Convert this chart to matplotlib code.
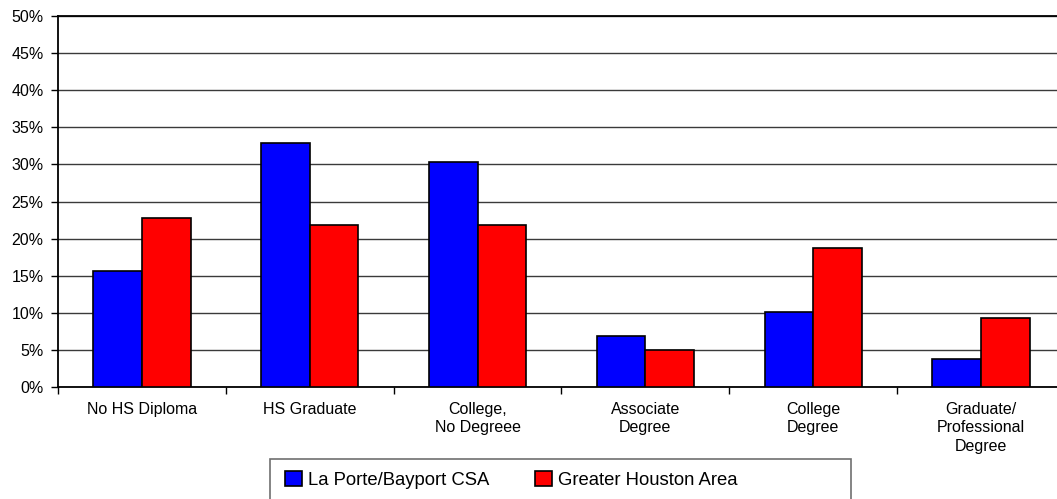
import numpy as np
import matplotlib
matplotlib.use("Agg")
import matplotlib.pyplot as plt
from matplotlib.patches import Rectangle

categories = ["No HS Diploma", "HS Graduate", "College,\nNo Degreee",
              "Associate\nDegree", "College\nDegree",
              "Graduate/\nProfessional\nDegree"]
la_porte = [15.6, 32.9, 30.3, 6.9, 10.1, 3.8]
houston = [22.8, 21.9, 21.9, 5.0, 18.8, 9.3]
series_names = ["La Porte/Bayport CSA", "Greater Houston Area"]
y_ticks = [0, 5, 10, 15, 20, 25, 30, 35, 40, 45, 50]

plt.rcParams['font.family'] = ['Liberation Sans', 'DejaVu Sans']

W, H = 1057, 499
fig = plt.figure(figsize=(W / 100, H / 100), dpi=100)
# plot area in pixels: left 58, bottom 387, top 16, right a bit past the edge
ax = fig.add_axes([58 / W, (H - 387) / H, (1065 - 58) / W, (387 - 16) / H])

x = np.arange(len(categories))
bw = 0.29
b1 = ax.bar(x - bw / 2, la_porte, bw, color='#0000FF', edgecolor='black',
            linewidth=1.2, zorder=3, label=series_names[0])
b2 = ax.bar(x + bw / 2, houston, bw, color='#FF0000', edgecolor='black',
            linewidth=1.2, zorder=3, label=series_names[1])

ax.set_xlim(-0.5, len(categories) - 0.5)
ax.set_ylim(0, 50)
ax.set_yticks(y_ticks)
ax.set_yticklabels([f"{v}%" for v in y_ticks])
ax.yaxis.grid(True, color='#3a3a3a', linewidth=1.0, zorder=0)
ax.set_axisbelow(True)

ax.set_xticks(x)
ax.set_xticklabels(categories, fontsize=11.5, linespacing=1.32)
ax.set_xticks(np.arange(len(categories) + 1) - 0.5, minor=True)
ax.tick_params(axis='x', which='major', length=0, pad=10.5)
ax.tick_params(axis='x', which='minor', length=5, width=1, direction='out', color='black')
ax.tick_params(axis='y', length=5, width=1, direction='out', pad=5.5, labelsize=11.5)

for side in ['left', 'bottom']:
    ax.spines[side].set_linewidth(1.3)
    ax.spines[side].set_color('black')
ax.spines['right'].set_visible(False)
ax.spines['top'].set_linewidth(1.3)
ax.spines['top'].set_color('black')

# legend box (runs off the bottom of the picture)
fig.patches.append(Rectangle((270 / W, -0.05), (851 - 270) / W, (H - 459) / H + 0.05,
                             transform=fig.transFigure, fill=False,
                             edgecolor='#707070', linewidth=1.2))
fig.legend(handles=[b1, b2], labels=series_names, loc='center left',
           bbox_to_anchor=(285 / W, (H - 480) / H), ncol=2, frameon=False,
           fontsize=13.3, handlelength=0.92, handleheight=0.92,
           handletextpad=0.3, columnspacing=2.5, borderpad=0, borderaxespad=0)

fig.savefig("out.png", dpi=100)
